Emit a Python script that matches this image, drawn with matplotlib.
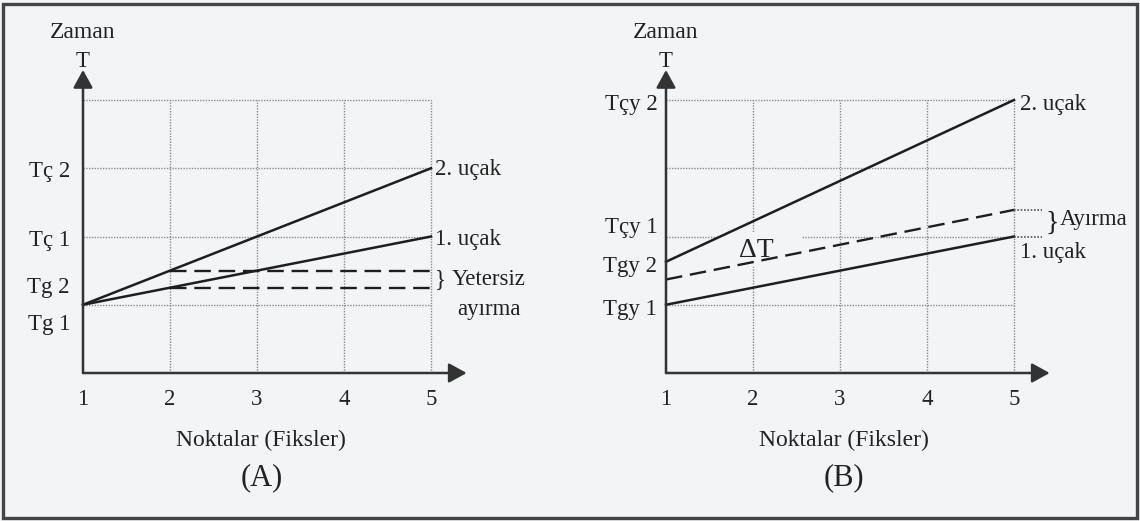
import matplotlib
matplotlib.use('Agg')
import matplotlib.pyplot as plt
from matplotlib.patches import Rectangle

plt.rcParams['font.family'] = ['Liberation Serif', 'DejaVu Serif']

# ---------------- data ----------------
fixes = [1, 2, 3, 4, 5]
grid_levels = [1, 2, 3, 4]
ends_x = [1, 5]

# Panel A
a_plane1 = [1.0, 2.0]
a_plane2 = [1.0, 3.0]
a_gap_x = [2, 5]
a_gap_levels = [1.5, 1.25]
a_ytick_labels = ['Tç 2', 'Tç 1', 'Tg 2', 'Tg 1']
a_ytick_pos = [2.87, 1.86, 1.17, 0.63]

# Panel B
b_plane1 = [1.0, 2.0]
b_plane2 = [1.63, 4.0]
b_sep = [1.37, 2.39]
b_ytick_labels = ['Tçy 2', 'Tçy 1', 'Tgy 2', 'Tgy 1']
b_ytick_pos = [3.85, 2.05, 1.48, 0.85]

# ---------------- style ----------------
BG = '#f3f4f6'
INK = '#1e1e1e'
TXT = '#222222'
GRID = '#8c8c8c'
FS = 16.5

fig = plt.figure(figsize=(11.4, 5.21), dpi=100, facecolor=BG)

PX = 87.0      # pixels per x unit
PY = 68.25     # pixels per y unit
ORIGIN_Y = 373


def make_axes(left_frac, axis_px_in_axes):
    ax = fig.add_axes([left_frac, 0, 0.5, 1])
    ax.set_facecolor(BG)
    x0 = 1 - axis_px_in_axes / PX
    x1 = 1 + (570 - axis_px_in_axes) / PX
    ax.set_xlim(x0, x1)
    ax.set_ylim((ORIGIN_Y - 521) / PY, ORIGIN_Y / PY)
    ax.axis('off')
    return ax


def draw_frame(ax, panel):
    # grid
    for gx in fixes[1:]:
        ax.plot([gx, gx], [0, grid_levels[-1]], color=GRID, lw=1.0,
                ls=(0, (1, 1)), zorder=1)
    for gy in grid_levels:
        ax.plot(ends_x, [gy, gy], color=GRID, lw=1.0, ls=(0, (1, 1)), zorder=1)
    # axes arrows
    arr = dict(arrowstyle='-|>,head_length=0.4,head_width=0.22', lw=1.8,
               color='#333333', mutation_scale=27, shrinkA=0, shrinkB=0)
    ax.annotate('', xy=(1, 4.44), xytext=(1, 0), arrowprops=arr, zorder=4)
    ax.annotate('', xy=(5.41, 0), xytext=(1, 0), arrowprops=arr, zorder=4)
    # x tick labels
    for fx in fixes:
        ax.text(fx, -0.47, str(fx), ha='center', va='baseline', fontsize=FS,
                color=TXT)
    ax.text(1, 4.48, 'T', ha='center', va='baseline', fontsize=FS, color=TXT)
    ax.text(0.99, 4.91, 'Zaman', ha='center', va='baseline', fontsize=FS + 0.5,
            color=TXT)
    ax.text(3.05, -1.07, 'Noktalar (Fiksler)', ha='center', va='baseline',
            fontsize=FS + 0.5, color=TXT)
    ax.text(3.05, -1.64, panel, ha='center', va='baseline', fontsize=22,
            color=TXT)


# ---------------- Panel A ----------------
axA = make_axes(0.0, 83)
draw_frame(axA, '(A)')
axA.plot(ends_x, a_plane2, color=INK, lw=1.8, zorder=3)
axA.plot(ends_x, a_plane1, color=INK, lw=1.8, zorder=3)
for lv in a_gap_levels:
    axA.plot(a_gap_x, [lv, lv], color=INK, lw=1.7, ls=(0, (7, 3.3)), zorder=3)
for lab, pos in zip(a_ytick_labels, a_ytick_pos):
    axA.text(1 - 0.15, pos, lab, ha='right', va='baseline', fontsize=FS,
             color=TXT)
axA.text(5.05, 2.90, '2. uçak', ha='left', va='baseline', fontsize=FS,
         color=TXT)
axA.text(5.05, 1.88, '1. uçak', ha='left', va='baseline', fontsize=FS,
         color=TXT)
axA.text(5.05, 1.29, '}', ha='left', va='baseline', fontsize=FS, color=TXT)
axA.text(5.24, 1.29, 'Yetersiz', ha='left', va='baseline', fontsize=FS,
         color=TXT)
axA.text(5.67, 0.85, 'ayırma', ha='center', va='baseline', fontsize=FS,
         color=TXT)

# ---------------- Panel B ----------------
axB = make_axes(0.5, 96)
draw_frame(axB, '(B)')
# white-out behind the ΔT mark
axB.add_patch(Rectangle((1.6, 1.55), 0.96, 0.52, facecolor=BG,
                        edgecolor='none', zorder=2))
axB.plot(ends_x, b_plane2, color=INK, lw=1.8, zorder=3)
axB.plot(ends_x, b_plane1, color=INK, lw=1.8, zorder=3)
axB.plot(ends_x, b_sep, color=INK, lw=1.7, ls=(0, (7, 3.3)), zorder=3)
# dotted extensions marking the separation
for lv in [b_plane1[-1], b_sep[-1]]:
    axB.plot([5, 5.32], [lv, lv], color='#555555', lw=1.2, ls=(0, (1, 1)),
             zorder=3)
for lab, pos in zip(b_ytick_labels, b_ytick_pos):
    axB.text(1 - 0.1, pos, lab, ha='right', va='baseline', fontsize=FS,
             color=TXT)
axB.text(5.07, 3.85, '2. uçak', ha='left', va='baseline', fontsize=FS,
         color=TXT)
axB.text(5.07, 1.68, '1. uçak', ha='left', va='baseline', fontsize=FS,
         color=TXT)
axB.text(5.36, 2.19, '}', ha='left', va='center', fontsize=20, color=TXT)
axB.text(5.53, 2.17, 'Ayırma', ha='left', va='baseline', fontsize=FS,
         color=TXT)
axB.text(1.84, 1.70, 'ΔT', ha='left', va='baseline', fontsize=FS + 3.5,
         color=TXT, zorder=4)

# outer frame
fig.add_artist(Rectangle((3 / 1140, 3 / 521), 1 - 6 / 1140, 1 - 7 / 521,
                         transform=fig.transFigure, fill=False, lw=2.4,
                         edgecolor='#444444'))

fig.savefig('out.png', dpi=100, facecolor=BG)
